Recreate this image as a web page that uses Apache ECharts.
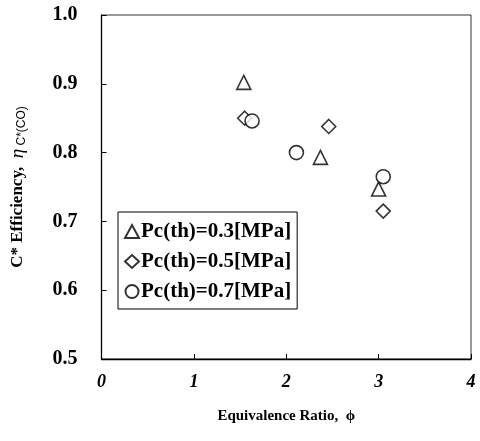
<!DOCTYPE html>
<html>
<head>
<meta charset="utf-8">
<script src="https://cdn.jsdelivr.net/npm/echarts@6/dist/echarts.min.js"></script>
<style>
  html, body { margin: 0; padding: 0; background: #fff; }
  #chart { width: 480px; height: 441px; }
</style>
</head>
<body>
<div id="chart"></div>
<script>
// equivalence ratio / efficiency pairs
const phi03 = [1.54, 2.37, 3.00]
const eta03 = [0.902, 0.793, 0.747]
const phi05 = [1.55, 2.46, 3.05]
const eta05 = [0.850, 0.838, 0.715]
const phi07 = [1.63, 2.11, 3.05]
const eta07 = [0.846, 0.800, 0.765]
const seriesNames = ['Pc(th)=0.3[MPa]', 'Pc(th)=0.5[MPa]', 'Pc(th)=0.7[MPa]']
const xTicks = [0, 1, 2, 3, 4]
const yTicks = [0.5, 0.6, 0.7, 0.8, 0.9, 1.0]

const font = '"Liberation Serif", "DejaVu Serif", serif'

function pairs (xs, ys) {
  return xs.map((x, i) => [x, ys[i]])
}

function scatter (name, symbol, size, data) {
  return {
    name: name,
    type: 'scatter',
    symbol: symbol,
    symbolSize: size,
    itemStyle: { color: '#fff', borderColor: '#000', borderWidth: 1.6 },
    data: data,
    z: 3
  }
}

const chart = echarts.init(document.getElementById('chart'), null, { renderer: 'canvas' })
chart.setOption({
  backgroundColor: '#fff',
  animation: false,
  grid: { left: 97, right: 9, top: 15, bottom: 82 },
  legend: {
    orient: 'vertical',
    left: 118,
    top: 212,
    itemWidth: 14,
    itemHeight: 13,
    itemGap: 9,
    padding: [9, 6, 7, 6],
    borderColor: '#000',
    borderWidth: 1,
    backgroundColor: '#fff',
    data: seriesNames,
    textStyle: { fontFamily: font, fontSize: 21, fontWeight: 'bold', color: '#000', padding: [0, 0, 0, -3] }
  },
  xAxis: {
    type: 'value',
    min: xTicks[0],
    max: xTicks[xTicks.length - 1],
    interval: 1,
    name: 'Equivalence Ratio,  ϕ',
    nameLocation: 'middle',
    nameGap: 50,
    nameTextStyle: { fontFamily: font, fontSize: 15, fontWeight: 'bold', color: '#000' },
    axisLine: { show: true, onZero: false, lineStyle: { color: '#000', width: 1.3 } },
    axisTick: { show: true, inside: true, length: 5, lineStyle: { color: '#000' } },
    axisLabel: { fontFamily: font, fontSize: 18, fontWeight: 'bold', color: '#000', fontStyle: 'italic', margin: 14 },
    splitLine: { show: false }
  },
  yAxis: {
    type: 'value',
    min: yTicks[0],
    max: yTicks[yTicks.length - 1],
    interval: 0.1,
    name: '{a|C* Efficiency,  }{b|η}{c| C*(CO)}',
    nameLocation: 'middle',
    nameGap: 74,
    nameTextStyle: {
      fontFamily: font, fontSize: 17, color: '#000',
      rich: {
        a: { fontFamily: font, fontSize: 17, fontWeight: 'bold', color: '#000' },
        b: { fontFamily: font, fontSize: 19, fontStyle: 'italic', color: '#000' },
        c: { fontFamily: 'Liberation Sans, sans-serif', fontSize: 12, color: '#000', padding: [8, 0, 0, 0] }
      }
    },
    axisLine: { show: true, onZero: false, lineStyle: { color: '#000', width: 1.3 } },
    axisTick: { show: true, inside: true, length: 5, lineStyle: { color: '#000' } },
    axisLabel: {
      fontFamily: font, fontSize: 20, fontWeight: 'bold', color: '#000', margin: 24,
      formatter: v => v.toFixed(1)
    },
    splitLine: { show: false }
  },
  graphic: [],
  series: [
    scatter(seriesNames[0], 'triangle', 14, pairs(phi03, eta03)),
    scatter(seriesNames[1], 'diamond', 14, pairs(phi05, eta05)),
    scatter(seriesNames[2], 'circle', 14, pairs(phi07, eta07))
  ]
})

// thin frame on top and right, like the printed figure
const gr = chart.getModel().getComponent('grid').coordinateSystem.getRect()
chart.setOption({
  graphic: [{
    type: 'rect',
    shape: { x: gr.x, y: gr.y, width: gr.width, height: gr.height },
    style: { fill: 'none', stroke: '#000', lineWidth: 0.8 },
    z: 0,
    silent: true
  }]
})
</script>
</body>
</html>
